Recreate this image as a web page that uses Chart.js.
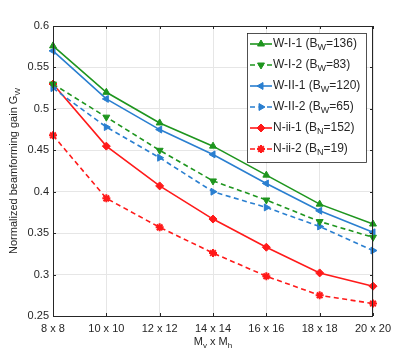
<!DOCTYPE html>
<html>
<head>
<meta charset="utf-8">
<script src="https://cdn.jsdelivr.net/npm/chart.js@4.4.0/dist/chart.umd.min.js"></script>
<style>
  html, body { margin: 0; padding: 0; background: #fff; }
  #wrap { width: 412px; height: 356px; }
</style>
</head>
<body>
<div id="wrap"><canvas id="gainChart"></canvas></div>
<script>
// sizes of the array (Mv x Mh)
const categories = ["8 x 8", "10 x 10", "12 x 12", "14 x 14", "16 x 16", "18 x 18", "20 x 20"];

const wI1 = [0.576, 0.520, 0.483, 0.455, 0.420, 0.385, 0.361];
const wI2 = [0.530, 0.490, 0.450, 0.413, 0.390, 0.364, 0.345];
const wII1 = [0.570, 0.512, 0.475, 0.445, 0.410, 0.377, 0.351];
const wII2 = [0.525, 0.478, 0.441, 0.400, 0.381, 0.358, 0.329];
const nii1 = [0.530, 0.455, 0.407, 0.367, 0.333, 0.302, 0.286];
const nii2 = [0.468, 0.392, 0.357, 0.326, 0.298, 0.275, 0.265];

const yTicks = [0.25, 0.3, 0.35, 0.4, 0.45, 0.5, 0.55, 0.6];

// legend text: main, subscript, rest
const legendText = [
  ["W-I-1 (B", "W", "=136)"],
  ["W-I-2 (B", "W", "=83)"],
  ["W-II-1 (B", "W", "=120)"],
  ["W-II-2 (B", "W", "=65)"],
  ["N-ii-1 (B", "N", "=152)"],
  ["N-ii-2 (B", "N", "=19)"],
];

const GREEN = "#1e951e";
const BLUE = "#2a7fd0";
const RED = "#ff1a1a";
const FONT = "'Liberation Sans', Arial, sans-serif";

function series(label, data, color, dashed, style, rot) {
  return {
    label: label,
    data: data,
    borderColor: color,
    backgroundColor: color,
    borderWidth: 1.6,
    borderDash: dashed ? [5, 3.5] : [],
    pointStyle: style,
    rotation: rot,
    pointRadius: 4,
    pointBorderWidth: style === "star" ? 2 : 1,
    pointBorderColor: color,
    tension: 0,
    fill: false,
  };
}

const datasets = [
  series("W-I-1", wI1, GREEN, false, "triangle", 0),
  series("W-I-2", wI2, GREEN, true, "triangle", 180),
  series("W-II-1", wII1, BLUE, false, "triangle", -90),
  series("W-II-2", wII2, BLUE, true, "triangle", 90),
  series("N-ii-1", nii1, RED, false, "rectRot", 0),
  series("N-ii-2", nii2, RED, true, "star", 0),
];

function drawSubText(ctx, x, y, parts, size) {
  ctx.font = size + "px " + FONT;
  ctx.fillText(parts[0], x, y);
  x += ctx.measureText(parts[0]).width;
  ctx.font = (size - 3) + "px " + FONT;
  ctx.fillText(parts[1], x, y + 4);
  x += ctx.measureText(parts[1]).width;
  ctx.font = size + "px " + FONT;
  if (parts[2]) ctx.fillText(parts[2], x, y);
  return x + (parts[2] ? ctx.measureText(parts[2]).width : 0);
}

function subWidth(ctx, parts, size) {
  ctx.font = size + "px " + FONT;
  let w = ctx.measureText(parts[0]).width + (parts[2] ? ctx.measureText(parts[2]).width : 0);
  ctx.font = (size - 3) + "px " + FONT;
  return w + ctx.measureText(parts[1]).width;
}

const decorPlugin = {
  id: "decor",
  afterDraw(chart) {
    const ctx = chart.ctx;
    const a = chart.chartArea;
    ctx.save();

    // box + inward ticks
    ctx.strokeStyle = "#262626";
    ctx.lineWidth = 1;
    ctx.strokeRect(a.left + 0.5, a.top + 0.5, a.right - a.left - 1, a.bottom - a.top);
    const ys = chart.scales.y, xs = chart.scales.x;
    ctx.beginPath();
    yTicks.forEach(function (t) {
      const py = Math.round(ys.getPixelForValue(t)) + 0.5;
      ctx.moveTo(a.left, py); ctx.lineTo(a.left + 3, py);
      ctx.moveTo(a.right, py); ctx.lineTo(a.right - 3, py);
    });
    categories.forEach(function (c, i) {
      const px = Math.round(xs.getPixelForValue(i)) + 0.5;
      ctx.moveTo(px, a.bottom); ctx.lineTo(px, a.bottom - 3);
      ctx.moveTo(px, a.top); ctx.lineTo(px, a.top + 3);
    });
    ctx.stroke();

    // axis titles
    ctx.fillStyle = "#262626";
    ctx.textBaseline = "middle";
    ctx.textAlign = "left";
    const xt = ["M", "v", " x M"];
    const w1 = subWidth(ctx, xt, 11);
    ctx.font = "8px " + FONT;
    const wh = ctx.measureText("h").width;
    let sx = (a.left + a.right) / 2 - (w1 + wh) / 2;
    let ex = drawSubText(ctx, sx, 342, xt, 11);
    ctx.font = "8px " + FONT;
    ctx.fillText("h", ex, 346);

    ctx.save();
    ctx.translate(14, (a.top + a.bottom) / 2);
    ctx.rotate(-Math.PI / 2);
    const yt = ["Normalized beamforming gain G", "W", ""];
    const wy = subWidth(ctx, yt, 11);
    drawSubText(ctx, -wy / 2, 0, yt, 11);
    ctx.restore();

    // legend
    const lx = 247, ly = 33, lw = 119, lh = 129;
    ctx.fillStyle = "#fff";
    ctx.fillRect(lx, ly, lw, lh);
    ctx.strokeStyle = "#262626";
    ctx.lineWidth = 0.8;
    ctx.strokeRect(lx + 0.5, ly + 0.5, lw, lh);
    chart.data.datasets.forEach(function (ds, i) {
      const yy = 44 + i * 21;
      ctx.strokeStyle = ds.borderColor;
      ctx.lineWidth = ds.borderWidth;
      ctx.setLineDash(ds.borderDash);
      ctx.beginPath();
      ctx.moveTo(250, yy); ctx.lineTo(272, yy);
      ctx.stroke();
      ctx.setLineDash([]);
      ctx.fillStyle = ds.backgroundColor;
      ctx.lineWidth = ds.pointBorderWidth;
      Chart.helpers.drawPoint(ctx, {
        pointStyle: ds.pointStyle, rotation: ds.rotation,
        radius: ds.pointRadius, borderWidth: ds.pointBorderWidth,
      }, 261, yy);
      ctx.fillStyle = "#262626";
      drawSubText(ctx, 273, yy, legendText[i], 12);
    });
    ctx.restore();
  },
};

function initializeChart() {
  const ctx = document.getElementById("gainChart").getContext("2d");
  new Chart(ctx, {
    type: "line",
    data: { labels: categories, datasets: datasets },
    plugins: [decorPlugin],
    options: {
      responsive: true,
      maintainAspectRatio: false,
      animation: false,
      layout: { padding: { left: 0, right: 39, top: 26, bottom: 0 } },
      scales: {
        x: {
          offset: false,
          grid: { color: "#e6e6e6", drawTicks: false },
          border: { display: false },
          ticks: { color: "#262626", font: { family: FONT, size: 11 }, padding: 6, maxRotation: 0, autoSkip: false },
          afterFit: function (s) { s.height = 40; },
        },
        y: {
          min: 0.25,
          max: 0.6,
          afterBuildTicks: function (s) { s.ticks = yTicks.map(function (v) { return { value: v }; }); },
          grid: { color: "#e6e6e6", drawTicks: false },
          border: { display: false },
          ticks: {
            color: "#262626", font: { family: FONT, size: 11 }, padding: 4,
            callback: function (v) { return String(Math.round(v * 100) / 100); },
          },
          afterFit: function (s) { s.width = 53; },
        },
      },
      plugins: {
        legend: { display: false },
        tooltip: { enabled: false },
      },
    },
  });
}

if (document.readyState === "loading") {
  document.addEventListener("DOMContentLoaded", initializeChart);
} else {
  initializeChart();
}
</script>
</body>
</html>
